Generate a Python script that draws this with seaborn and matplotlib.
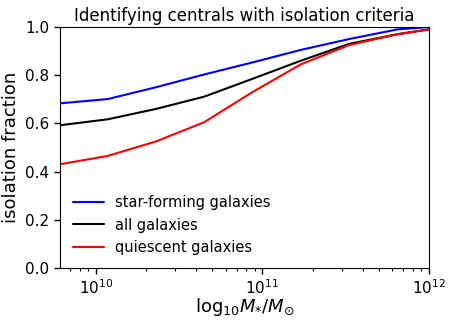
import numpy as np
import pandas as pd
import matplotlib
matplotlib.use("Agg")
import matplotlib.pyplot as plt
from matplotlib.ticker import LogLocator, NullFormatter
import seaborn as sns

# log10 stellar mass of the bins
log_mass = [9.78, 10.07, 10.36, 10.65, 10.94, 11.23, 11.52, 11.81, 12.0]

frac_sf = [0.683, 0.701, 0.75, 0.803, 0.853, 0.905, 0.95, 0.99, 1.0]
frac_all = [0.592, 0.617, 0.66, 0.711, 0.785, 0.86, 0.93, 0.97, 0.99]
frac_q = [0.43, 0.465, 0.525, 0.605, 0.73, 0.845, 0.925, 0.97, 0.99]

labels = ["star-forming galaxies", "all galaxies", "quiescent galaxies"]
colors = ["blue", "black", "red"]

sns.set_style("ticks", rc={
    "axes.edgecolor": "black",
    "axes.labelcolor": "black",
    "text.color": "black",
    "xtick.color": "black",
    "ytick.color": "black",
    "axes.linewidth": 0.8,
    "xtick.major.pad": 3.5,
    "ytick.major.pad": 3.5,
})
plt.rcParams["font.family"] = ["DejaVu Sans"]
plt.rcParams["mathtext.fontset"] = "dejavusans"

mass = 10 ** np.array(log_mass)
df = pd.concat([
    pd.DataFrame({"mass": mass, "frac": f, "sample": lab})
    for f, lab in zip([frac_sf, frac_all, frac_q], labels)
])

fig = plt.figure(figsize=(4.53, 3.2), dpi=100)
ax = fig.add_axes([0.1325, 0.1625, 0.8145, 0.7531])
sns.lineplot(data=df, x="mass", y="frac", hue="sample", hue_order=labels,
             palette=colors, linewidth=1.5, ax=ax)
ax.set_xscale("log")
ax.set_xlim(10 ** 9.784, 1e12)
ax.set_ylim(0, 1)
ax.set_yticks([0, 0.2, 0.4, 0.6, 0.8, 1.0])
ax.xaxis.set_minor_locator(LogLocator(base=10, subs=np.arange(2, 10), numticks=20))
ax.xaxis.set_minor_formatter(NullFormatter())
ax.tick_params(which="major", direction="out", bottom=True, left=True,
               length=4, width=1, colors="black", labelsize=11)
ax.tick_params(axis="x", which="minor", direction="out", bottom=True,
               length=2.5, width=0.8, color="black")
ax.set_title("Identifying centrals with isolation criteria", fontsize=12, pad=4)
ax.set_xlabel(r"$\mathrm{log}_{10}M_{*}/M_{\odot}$", fontsize=13, labelpad=-1)
ax.set_ylabel("isolation fraction", fontsize=13)
ax.legend(loc="lower left", frameon=False, fontsize=10.5, handlelength=2.1)

fig.savefig("out.png", dpi=100)
